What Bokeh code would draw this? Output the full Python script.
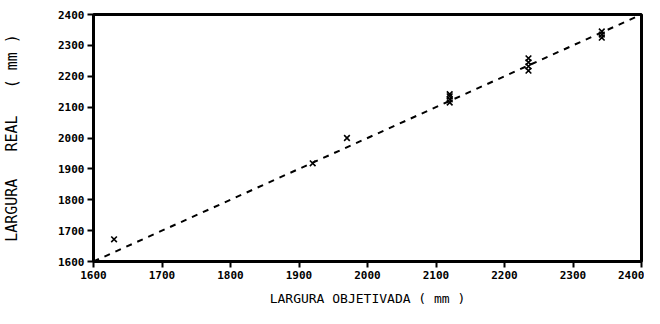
from bokeh.plotting import figure
from bokeh.models import Range1d, FixedTicker
from bokeh.embed import file_html
from bokeh.resources import INLINE

# Data
obj_x = [1630, 1920, 1970, 2120, 2120, 2120, 2120, 2235, 2235, 2235, 2235, 2342, 2342, 2342]
real_y = [1672, 1918, 2000, 2115, 2125, 2135, 2142, 2218, 2232, 2245, 2258, 2325, 2335, 2345]
ref_x = [1600, 2400]
ref_y = [1600, 2400]
ticks = [1600, 1700, 1800, 1900, 2000, 2100, 2200, 2300, 2400]

p = figure(width=644, height=308, output_backend="svg", toolbar_location=None,
           x_range=Range1d(1600, 2400), y_range=Range1d(1600, 2400),
           min_border_left=91, min_border_right=3, min_border_top=14, min_border_bottom=43)

p.line(ref_x, ref_y, line_color="black", line_width=2, line_dash="6 6")
p.scatter(obj_x, real_y, marker="x", size=8, line_color="black", line_width=1.6)

p.grid.visible = False
p.outline_line_color = "black"
p.outline_line_width = 3

for ax in (p.xaxis[0], p.yaxis[0]):
    ax.ticker = FixedTicker(ticks=ticks)
    ax.minor_tick_line_color = None
    ax.major_tick_in = 0
    ax.major_tick_out = 6
    ax.major_tick_line_width = 2
    ax.axis_line_width = 3
    ax.major_label_text_font = "DejaVu Sans Mono"
    ax.major_label_text_font_style = "bold"
    ax.major_label_text_font_size = "11px"
    ax.major_label_text_color = "black"
    ax.axis_label_text_font = "DejaVu Sans Mono"
    ax.axis_label_text_font_style = "normal"
    ax.axis_label_text_color = "black"

p.xaxis.axis_label = "LARGURA OBJETIVADA ( mm )"
p.xaxis.axis_label_text_font_size = "13px"
p.xaxis.axis_label_standoff = 9
p.xaxis.major_label_standoff = 3

p.yaxis.axis_label = "LARGURA\u00a0\u00a0 REAL\u00a0\u00a0 ( mm )"
p.yaxis.axis_label_text_font_size = "15px"
p.yaxis.axis_label_standoff = 34
p.yaxis.major_label_standoff = 3

open("out.html", "w").write(file_html(p, INLINE))
